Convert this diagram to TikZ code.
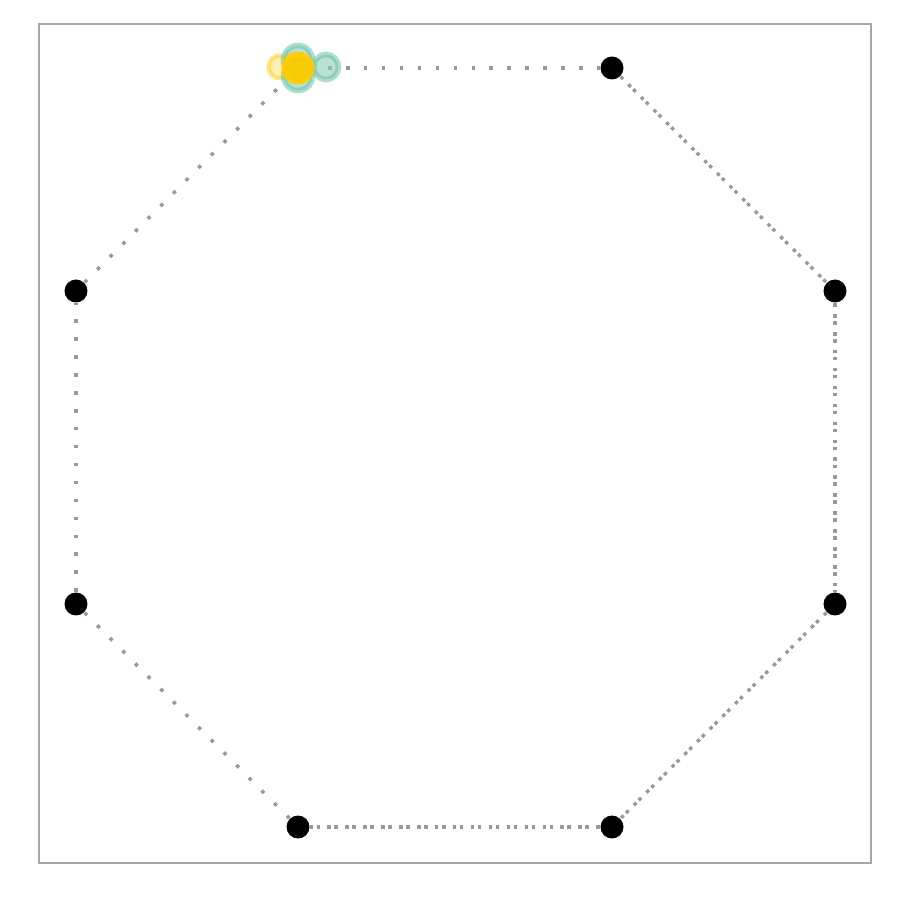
\documentclass[tikz,border=0pt]{standalone}
\usepackage{tikz}
\usetikzlibrary{positioning}
\definecolor{ringgray}{HTML}{A6A6A6}
\definecolor{linkgray}{HTML}{999999}
\definecolor{tokgreen}{HTML}{66C2A5}
\definecolor{tokgold}{HTML}{FFCC00}
\tikzset{
    vtx/.style={circle,fill=black,minimum size=2.3mm,inner sep=0pt},
    link/.style={draw=linkgray,line width=1pt,dash pattern=on 1pt off 4.1pt},
    linkb/.style={link,dash phase=2pt},
    tokgreen/.style={circle,draw=tokgreen,fill=tokgreen!75,fill opacity=0.6,draw opacity=0.55,line width=1.6pt,inner sep=0pt},
    tokgoldlight/.style={circle,draw=tokgold,fill=tokgold!60,fill opacity=0.5,draw opacity=0.45,line width=1.2pt,inner sep=0pt},
    tokgoldmain/.style={circle,fill=tokgold,fill opacity=0.95,inner sep=0pt},
}
\begin{document}
\begin{tikzpicture}
    \useasboundingbox (0,0) rectangle (9,9);
    \draw[ringgray,line width=0.6pt] (0.39,0.37) rectangle (8.71,8.76);

    \node[vtx] (a) at (2.98,8.32) {};
    \node[vtx] (b) at (6.12,8.32) {};
    \node[vtx] (c) at (8.35,6.09) {};
    \node[vtx] (d) at (8.35,2.96) {};
    \node[vtx] (e) at (6.12,0.73) {};
    \node[vtx] (f) at (2.98,0.73) {};
    \node[vtx] (g) at (0.76,2.96) {};
    \node[vtx] (h) at (0.76,6.09) {};

    % single links
    \path[link] (a) -- (b);
    \path[link] (h) -- (a);
    \path[link] (g) -- (h);
    \path[link] (f) -- (g);
    % doubled links
    \path[link] (b) -- (c);
    \path[linkb] (b) -- (c);
    \path[link] (c) -- (d);
    \path[linkb] (c) -- (d);
    \path[link] (d) -- (e);
    \path[linkb] (d) -- (e);
    \path[link] (e) -- (f);
    \path[linkb] (e) -- (f);

    % tokens sitting on a
    \node[tokgoldlight,minimum size=2.3mm] (t1) at (2.80,8.33) {};
    \node[tokgreen,minimum size=2.9mm] (t2) at (2.98,8.40) {};
    \node[tokgreen,minimum size=2.9mm] (t3) at (2.98,8.24) {};
    \node[tokgreen,minimum size=2.5mm] (t4) at (3.26,8.33) {};
    \node[tokgoldmain,minimum size=3.3mm] (t5) at (2.98,8.32) {};
\end{tikzpicture}
\end{document}
